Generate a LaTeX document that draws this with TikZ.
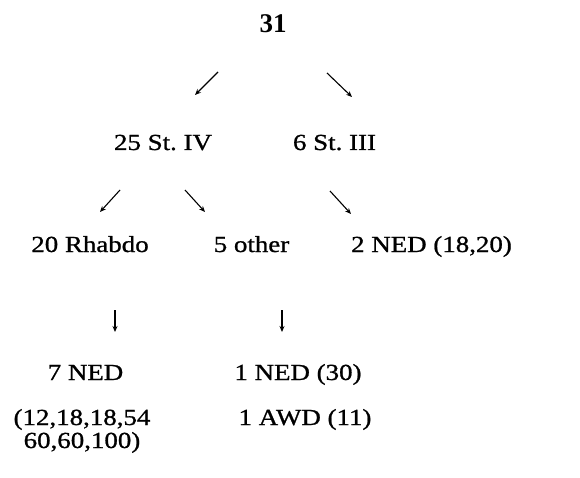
\documentclass[tikz,border=0pt]{standalone}
\usepackage{fontspec}
\setmainfont{Liberation Serif}[FakeStretch=1.17,FakeBold=1]
\newfontfamily\bigfont{Liberation Serif}
\usetikzlibrary{arrows.meta}
\begin{document}
\begin{tikzpicture}[x=1pt,y=-1pt,
  lbl/.style={anchor=base,inner sep=0pt,font=\fontsize{23}{23}\selectfont},
  toplbl/.style={anchor=base,inner sep=0pt,font=\bigfont\bfseries\fontsize{27}{30}\selectfont},
  arr/.style={line width=1.1pt,-{Stealth[length=6pt,width=5pt]}}]
\useasboundingbox (0,0) rectangle (580,478);
% nodes
\node[toplbl] (n31) at (273,33) {31};
\node[lbl] (st4) at (163,150) {25 St.\ IV};
\node[lbl] (st3) at (334.5,150) {6 St.\ III};
\node[lbl] (rh) at (90,252) {20 Rhabdo};
\node[lbl] (oth) at (251.5,252) {5 other};
\node[lbl] (ned2) at (431.5,252) {2 NED (18,20)};
\node[lbl] (ned7) at (85.5,380) {7 NED};
\node[lbl] (ned1) at (298,380) {1 NED (30)};
\node[lbl,align=center] (list) at (82,448) {(12,18,18,54\\60,60,100)};
\node[lbl] (awd) at (305,425) {1 AWD (11)};
% arrow end points
\coordinate (a1s) at (218,72);  \coordinate (a1e) at (195,95);
\coordinate (a2s) at (327,73);  \coordinate (a2e) at (352,97);
\coordinate (a3s) at (120,190); \coordinate (a3e) at (100,212);
\coordinate (a4s) at (185,190); \coordinate (a4e) at (205,212);
\coordinate (a5s) at (330,191); \coordinate (a5e) at (351,214);
\coordinate (a6s) at (115,310); \coordinate (a6e) at (115,332);
\coordinate (a7s) at (282,310); \coordinate (a7e) at (282,332);
\foreach \i in {1,...,7} {\draw[arr] (a\i s) -- (a\i e);}
\end{tikzpicture}
\end{document}
